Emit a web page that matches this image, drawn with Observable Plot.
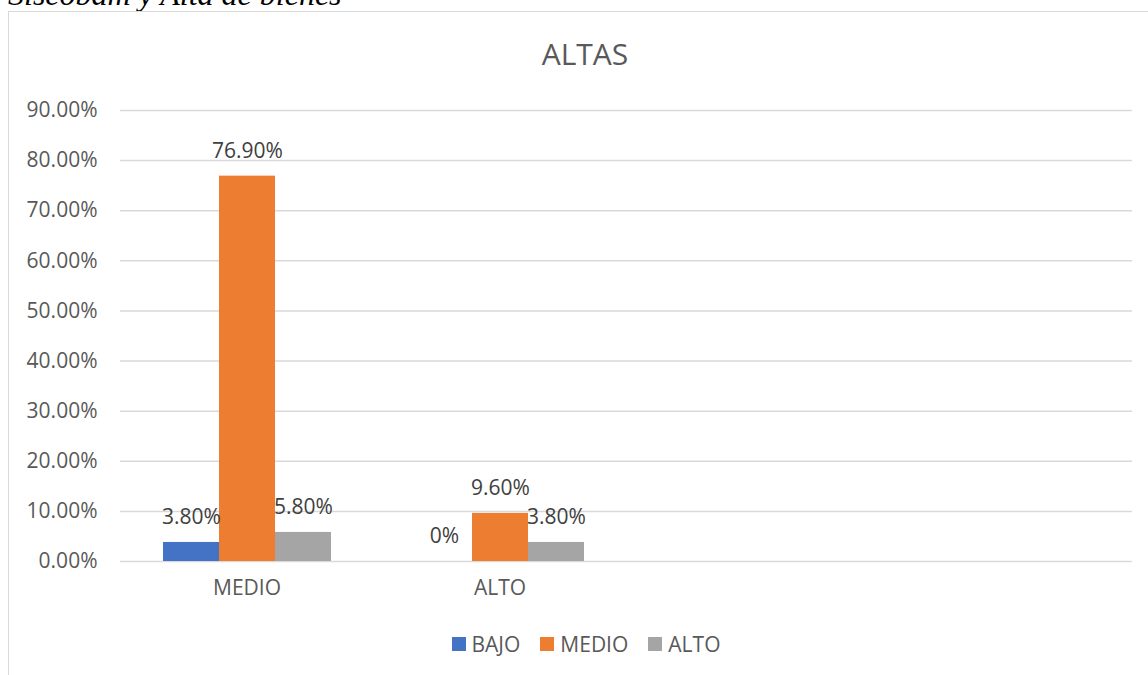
<!DOCTYPE html>
<html><head><meta charset="utf-8">
<script src="https://cdn.jsdelivr.net/npm/d3@7"></script>
<script src="https://cdn.jsdelivr.net/npm/@observablehq/plot@0.6"></script>
<style>
body{margin:0;background:#fff;width:1148px;height:675px;overflow:hidden;position:relative;font-family:"Open Sans",sans-serif;}
#top{position:absolute;left:8px;top:-22px;font:italic 32px/32px "Liberation Serif",serif;color:#000;white-space:nowrap}
#frame{position:absolute;left:8px;top:11px;width:1200px;height:700px;border:1.5px solid #d9d9d9;box-sizing:border-box}
#title{position:absolute;left:0;width:1170px;top:39px;text-align:center;font-size:30px;line-height:30px;color:#595959}
#chart{position:absolute;left:0;top:0}
#legend{position:absolute;left:0;width:1172px;top:634px;display:flex;justify-content:center;font-size:21px;line-height:20px;color:#595959}
.item{display:flex;align-items:center;margin:0 10px}
.sw{width:14px;height:14px;margin-right:6px}
</style>
</head><body>
<div id="top">Siscobam y Alta de bienes</div>
<div id="frame"></div>
<div id="title">ALTAS</div>
<div id="chart"></div>
<div id="legend"></div>
<script>
const categories = ["MEDIO", "ALTO", " ", "  "];
const series = ["BAJO", "MEDIO", "ALTO"];
const bajo = [3.8, 0];
const medio = [76.9, 9.6];
const alto = [5.8, 3.8];
const yTicks = [0, 10, 20, 30, 40, 50, 60, 70, 80, 90];
const colors = ["#4472C4", "#ED7D31", "#A5A5A5"];

const seriesValues = [bajo, medio, alto];
const rows = [];
categories.forEach((c, i) => {
  series.forEach((s, j) => {
    const v = seriesValues[j][i];
    if (v !== undefined) rows.push({cat: c, series: s, value: v});
  });
});
const gridRows = categories.flatMap(c => yTicks.map(t => ({c, t})));
const fmt = v => v === 0 ? "0%" : v.toFixed(2) + "%";

const chart = Plot.plot({
  width: 1148, height: 675,
  marginTop: 110, marginBottom: 114, marginLeft: 120, marginRight: 16,
  style: {fontFamily: "Open Sans", fontSize: "21px", color: "#595959", background: "transparent"},
  fx: {domain: categories, padding: 0, tickSize: 0, tickPadding: 19, label: null, axis: "bottom"},
  x: {domain: series, paddingInner: 0, paddingOuter: 0.746, axis: null},
  y: {domain: [0, 90], ticks: yTicks, tickFormat: d => d.toFixed(2) + "%", tickSize: 0, tickPadding: 23, label: null},
  color: {domain: series, range: colors},
  marks: [
    Plot.ruleY(gridRows, {fx: "c", y: "t", stroke: "#d9d9d9", strokeWidth: 1.5}),
    Plot.barY(rows, {fx: "cat", x: "series", y: "value", fill: "series"}),
    Plot.text(rows, {fx: "cat", x: "series", y: "value", text: d => fmt(d.value), dy: -25, fill: "#404040", fontSize: 21})
  ]
});
document.getElementById("chart").appendChild(chart);

const legend = document.getElementById("legend");
series.forEach((s, i) => {
  const it = document.createElement("div");
  it.className = "item";
  it.innerHTML = `<span class="sw" style="background:${colors[i]}"></span><span>${s}</span>`;
  legend.appendChild(it);
});
</script>
</body></html>
